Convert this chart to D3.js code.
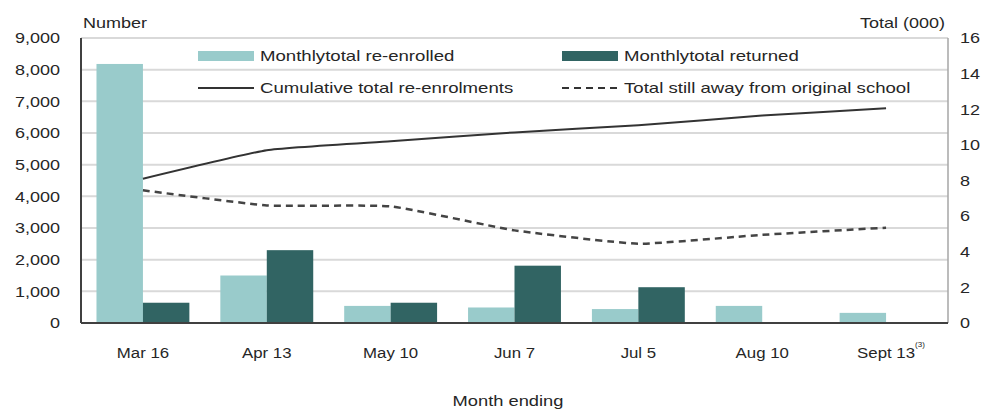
<!DOCTYPE html>
<html>
<head>
<meta charset="utf-8">
<script src="https://cdn.jsdelivr.net/npm/d3@7"></script>
<style>
  body { margin: 0; background: #fff; }
  svg text { font-family: "Liberation Sans", Arial, sans-serif; fill: #262626; font-size: 15px; }
</style>
</head>
<body>
<svg id="chart" width="990" height="410"></svg>
<script>
// data
var months = ["Mar 16", "Apr 13", "May 10", "Jun 7", "Jul 5", "Aug 10", "Sept 13"];
var reEnrolled = [8180, 1500, 540, 490, 440, 540, 320];
var returned = [640, 2300, 640, 1810, 1130, 0, 0];
var cumulative = [8.1, 9.7, 10.2, 10.7, 11.1, 11.65, 12.05];
var stillAway = [7.45, 6.6, 6.55, 5.2, 4.45, 4.95, 5.35];
var leftTicks = [0, 1000, 2000, 3000, 4000, 5000, 6000, 7000, 8000, 9000];
var rightTicks = [0, 2, 4, 6, 8, 10, 12, 14, 16];

var svg = d3.select("#chart");
var plotLeft = 81, plotRight = 948, plotTop = 38, plotBottom = 323;

// the source text is stretched sideways, copy that
function stretch(sel, k) {
  sel.each(function() {
    var w = this.getComputedTextLength();
    d3.select(this)
      .attr("textLength", w * k)
      .attr("lengthAdjust", "spacingAndGlyphs");
  });
}

var x = d3.scaleBand()
  .domain(months)
  .range([plotLeft, plotRight])
  .paddingInner(0.25)
  .paddingOuter(0.125);

var xInner = d3.scaleBand()
  .domain(["re", "ret"])
  .range([0, x.bandwidth()]);

var yLeft = d3.scaleLinear().domain([0, 9000]).range([plotBottom, plotTop]);
var yRight = d3.scaleLinear().domain([0, 16]).range([plotBottom, plotTop]);

// gridlines
svg.append("g")
  .selectAll("line")
  .data(leftTicks)
  .enter()
    .append("line")
      .attr("x1", plotLeft)
      .attr("x2", plotRight)
      .attr("y1", function(d) { return yLeft(d); })
      .attr("y2", function(d) { return yLeft(d); })
      .attr("stroke", "#d9d9d9")
      .attr("stroke-width", 2);

// bars
var groups = svg.append("g")
  .selectAll("g")
  .data(months)
  .enter()
    .append("g")
      .attr("transform", function(d) { return "translate(" + x(d) + ",0)"; });

groups.append("rect")
  .attr("x", xInner("re"))
  .attr("width", xInner.bandwidth())
  .attr("y", function(d, i) { return yLeft(reEnrolled[i]); })
  .attr("height", function(d, i) { return plotBottom - yLeft(reEnrolled[i]); })
  .attr("fill", "#99cbcb");

groups.append("rect")
  .attr("x", xInner("ret"))
  .attr("width", xInner.bandwidth())
  .attr("y", function(d, i) { return yLeft(returned[i]); })
  .attr("height", function(d, i) { return plotBottom - yLeft(returned[i]); })
  .attr("fill", "#316463");

// lines, lightly smoothed like the source
var line = d3.line()
  .x(function(d, i) { return x(months[i]) + x.bandwidth() / 2; })
  .y(function(d) { return yRight(d); })
  .curve(d3.curveCardinal.tension(0.6));

svg.append("path")
  .datum(cumulative)
  .attr("d", line)
  .attr("fill", "none")
  .attr("stroke", "#333")
  .attr("stroke-width", 2);

svg.append("path")
  .datum(stillAway)
  .attr("d", line)
  .attr("fill", "none")
  .attr("stroke", "#444")
  .attr("stroke-width", 2.5)
  .attr("stroke-dasharray", "7,5");

// axes frame
svg.append("line")
  .attr("x1", plotLeft).attr("x2", plotLeft)
  .attr("y1", plotTop).attr("y2", plotBottom)
  .attr("stroke", "#404040").attr("stroke-width", 2);
svg.append("line")
  .attr("x1", plotRight).attr("x2", plotRight)
  .attr("y1", plotTop).attr("y2", plotBottom)
  .attr("stroke", "#a6a6a6").attr("stroke-width", 1.5);
svg.append("line")
  .attr("x1", plotLeft).attr("x2", plotRight)
  .attr("y1", plotBottom).attr("y2", plotBottom)
  .attr("stroke", "#404040").attr("stroke-width", 2);

// left axis
var yAxisL = svg.append("g")
  .attr("transform", "translate(" + (plotLeft - 21) + ",0)")
  .call(d3.axisLeft(yLeft).tickValues(leftTicks).tickSize(0).tickPadding(0)
    .tickFormat(d3.format(",")));
yAxisL.select(".domain").remove();
yAxisL.selectAll(".tick text").style("font-size", "15px").style("fill", "#262626");
stretch(yAxisL.selectAll(".tick text"), 1.2);

// right axis
var yAxisR = svg.append("g")
  .attr("transform", "translate(" + (plotRight + 12) + ",0)")
  .call(d3.axisRight(yRight).tickValues(rightTicks).tickSize(0).tickPadding(0));
yAxisR.select(".domain").remove();
yAxisR.selectAll(".tick text").style("font-size", "15px").style("fill", "#262626");
stretch(yAxisR.selectAll(".tick text"), 1.2);

// x axis
var xAxis = svg.append("g")
  .attr("transform", "translate(0," + (plotBottom + 25) + ")")
  .call(d3.axisBottom(x).tickSize(0).tickPadding(0));
xAxis.select(".domain").remove();
xAxis.selectAll(".tick text").style("font-size", "14px").style("fill", "#262626");
stretch(xAxis.selectAll(".tick text"), 1.2);

// superscript on the last label
svg.append("text")
  .attr("x", x("Sept 13") + x.bandwidth() / 2 + 29)
  .attr("y", plotBottom + 24)
  .style("font-size", "8px")
  .text("(3)");

// titles
stretch(svg.append("text")
  .attr("x", 83).attr("y", 28)
  .text("Number"), 1.2);
stretch(svg.append("text")
  .attr("x", 945).attr("y", 28)
  .attr("text-anchor", "end")
  .text("Total (000)"), 1.2);
stretch(svg.append("text")
  .attr("x", 508).attr("y", 406)
  .attr("text-anchor", "middle")
  .text("Month ending"), 1.22);

// legend
var legend = svg.append("g").attr("class", "legend");
var items = [
  {label: "Monthlytotal re-enrolled", kind: "rect", color: "#99cbcb", lx: 198, ly: 56},
  {label: "Monthlytotal returned", kind: "rect", color: "#316463", lx: 562, ly: 56},
  {label: "Cumulative total re-enrolments", kind: "line", dash: null, lx: 198, ly: 88},
  {label: "Total still away from original school", kind: "line", dash: "7,5", lx: 562, ly: 88}
];

items.forEach(function(it) {
  if (it.kind === "rect") {
    legend.append("rect")
      .attr("x", it.lx).attr("y", it.ly - 5)
      .attr("width", 56).attr("height", 10)
      .attr("fill", it.color);
  } else {
    legend.append("line")
      .attr("x1", it.lx).attr("x2", it.lx + 56)
      .attr("y1", it.ly).attr("y2", it.ly)
      .attr("stroke", "#333")
      .attr("stroke-width", 2)
      .attr("stroke-dasharray", it.dash);
  }
  stretch(legend.append("text")
    .attr("x", it.lx + 62)
    .attr("y", it.ly + 5)
    .text(it.label), 1.24);
});
</script>
</body>
</html>
